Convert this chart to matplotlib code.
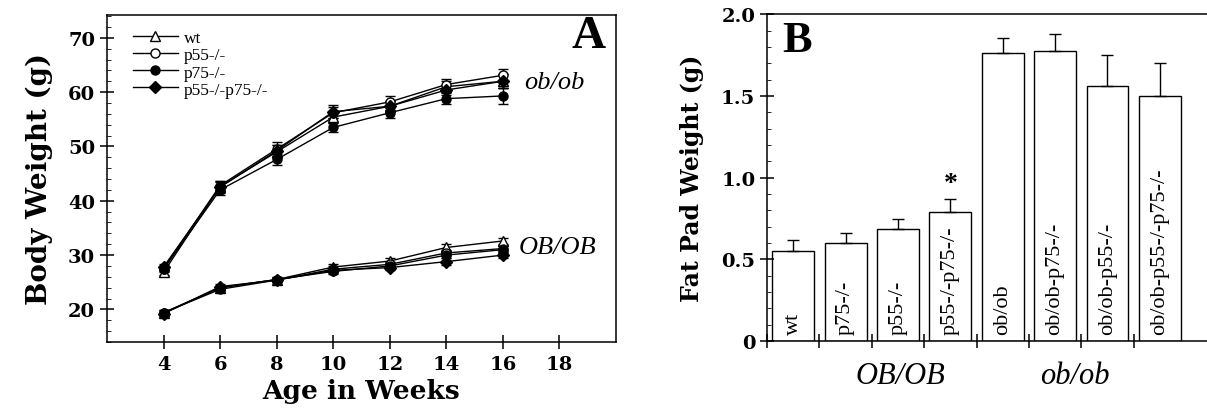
"""Body weight over time and fat pad weight for TNF receptor knockouts."""
import matplotlib
matplotlib.use("Agg")
import matplotlib.pyplot as plt
from matplotlib.lines import Line2D
from matplotlib.ticker import MultipleLocator

plt.rcParams["font.family"] = ["Liberation Serif", "DejaVu Serif"]
WIDE = ["DejaVu Serif"]

# Panel A: body weight (g) by age in weeks
weeks = [4, 6, 8, 10, 12, 14, 16]
genotypes = ["wt", "p55-/-", "p75-/-", "p55-/-p75-/-"]

obob_wt = [26.8, 42.6, 49.0, 55.4, 57.4, 61.0, 62.0]
obob_p55 = [27.5, 42.8, 49.5, 56.2, 58.2, 61.4, 63.1]
obob_p75 = [27.4, 42.0, 47.6, 53.5, 56.2, 58.8, 59.3]
obob_dko = [27.8, 42.5, 49.2, 56.4, 57.4, 60.4, 62.0]
obob_wt_err = [0.5, 1.0, 1.2, 1.1, 1.0, 1.0, 1.3]
obob_p55_err = [0.5, 0.9, 1.3, 1.0, 1.0, 1.1, 1.2]
obob_p75_err = [0.5, 0.9, 1.0, 0.9, 0.9, 1.0, 1.4]
obob_dko_err = [0.5, 1.0, 1.1, 1.2, 1.0, 1.0, 1.3]

OBOB_wt = [19.3, 24.0, 25.5, 27.8, 28.9, 31.4, 32.6]
OBOB_p55 = [19.4, 23.7, 25.4, 27.4, 28.3, 30.4, 31.2]
OBOB_p75 = [19.4, 24.0, 25.5, 27.0, 28.0, 30.0, 31.0]
OBOB_dko = [19.2, 24.2, 25.4, 27.2, 27.7, 28.8, 30.0]
OBOB_err = [0.4, 0.4, 0.4, 0.5, 0.5, 0.6, 0.6]

# Panel B: fat pad weight (g)
bar_labels = ["wt", "p75-/-", "p55-/-", "p55-/-p75-/-",
              "ob/ob", "ob/ob-p75-/-", "ob/ob-p55-/-", "ob/ob-p55-/-p75-/-"]
fat_pad = [0.55, 0.60, 0.685, 0.79, 1.765, 1.776, 1.558, 1.50]
fat_pad_err = [0.07, 0.06, 0.06, 0.08, 0.09, 0.10, 0.19, 0.20]

fig = plt.figure(figsize=(12.07, 4.10), dpi=100)
ax_a = fig.add_axes([0.0886, 0.1634, 0.4218, 0.7976])
ax_b = fig.add_axes([0.6355, 0.1659, 0.3645, 0.7971])

# --- Panel A ---
styles = [
    dict(marker="^", mfc="white"),
    dict(marker="o", mfc="white"),
    dict(marker="o", mfc="black"),
    dict(marker="D", mfc="black"),
]
obob = [obob_wt, obob_p55, obob_p75, obob_dko]
obob_err = [obob_wt_err, obob_p55_err, obob_p75_err, obob_dko_err]
OBOB = [OBOB_wt, OBOB_p55, OBOB_p75, OBOB_dko]

handles = []
for name, style, vals, errs, vals2 in zip(genotypes, styles, obob, obob_err, OBOB):
    ax_a.errorbar(weeks, vals, yerr=errs, color="black", mec="black",
                  ms=6.5, lw=1.0, elinewidth=1.0, capsize=3.5, **style)
    ax_a.errorbar(weeks, vals2, yerr=OBOB_err, color="black", mec="black",
                  ms=6.5, lw=1.0, elinewidth=1.0, capsize=3.5, **style)
    handles.append(Line2D([], [], color="black", mec="black", ms=6.5,
                          lw=1.0, label=name, **style))

ax_a.set_xlim(2, 20)
ax_a.set_ylim(14, 74.2)
ax_a.set_xticks(range(4, 19, 2))
ax_a.set_yticks(range(20, 71, 10))
ax_a.yaxis.set_minor_locator(MultipleLocator(2))
ax_a.tick_params(axis="both", which="major", direction="inout", length=10,
                 width=1.1, labelsize=14)
ax_a.tick_params(axis="y", which="minor", direction="in", length=3)
ax_a.tick_params(axis="x", pad=4)
for lab in ax_a.get_xticklabels() + ax_a.get_yticklabels():
    lab.set_fontweight("bold")
    lab.set_family(WIDE)
for sp in ax_a.spines.values():
    sp.set_linewidth(1.1)

ax_a.set_xlabel("Age in Weeks", fontsize=19, fontweight="bold",
                family=WIDE, labelpad=4)
ax_a.set_ylabel("Body Weight (g)", fontsize=20, fontweight="bold",
                family=WIDE, labelpad=11)
ax_a.legend(handles=handles, loc="upper left",
            bbox_to_anchor=(0.03, 0.985), frameon=False,
            fontsize=12.5, handlelength=2.6, labelspacing=0.05,
            borderaxespad=0.2, handletextpad=0.35)
ax_a.text(0.98, 0.936, "A", transform=ax_a.transAxes, fontsize=34,
          fontweight="bold", ha="right", va="center")
ax_a.text(16.75, 61.8, "ob/ob", fontsize=19, style="italic",
          ha="left", va="center")
ax_a.text(16.55, 31.4, "OB/OB", fontsize=19, style="italic",
          ha="left", va="center")

# --- Panel B ---
xpos = [i + 0.5 for i in range(len(bar_labels))]
ax_b.bar(xpos, fat_pad, width=0.8, color="white", edgecolor="black",
         linewidth=1.0)
ax_b.errorbar(xpos, fat_pad, yerr=[[0] * len(fat_pad), fat_pad_err],
              fmt="none", ecolor="black", elinewidth=1.0, capsize=4)
for x, lab in zip(xpos, bar_labels):
    ax_b.text(x, 0.04, lab, rotation=90, ha="center", va="bottom",
              fontsize=16)
ax_b.text(xpos[3], fat_pad[3] + fat_pad_err[3] + 0.02, "*", ha="center",
          va="bottom", fontsize=20, fontweight="bold")

ax_b.set_xlim(0, 8.4)
ax_b.set_ylim(0, 2.0)
ax_b.set_xticks(range(0, 8))
ax_b.set_xticklabels([])
ax_b.set_yticks([0, 0.5, 1.0, 1.5, 2.0])
ax_b.set_yticklabels(["0", "0.5", "1.0", "1.5", "2.0"])
ax_b.yaxis.set_minor_locator(MultipleLocator(0.1))
ax_b.tick_params(axis="both", which="major", direction="inout", length=10,
                 width=1.1, labelsize=14)
ax_b.tick_params(axis="y", which="minor", direction="in", length=3)
for lab in ax_b.get_yticklabels():
    lab.set_fontweight("bold")
    lab.set_family(WIDE)
ax_b.spines["right"].set_visible(False)
for sp in ax_b.spines.values():
    sp.set_linewidth(1.1)
ax_b.set_ylabel("Fat Pad Weight (g)", fontsize=17, fontweight="bold",
                family=WIDE, labelpad=12)
ax_b.text(0.035, 0.92, "B", transform=ax_b.transAxes, fontsize=32,
          fontweight="bold", ha="left", va="center")
ax_b.text(2.55, -0.107, "OB/OB", transform=ax_b.get_xaxis_transform(),
          fontsize=22, style="italic", ha="center", va="center")
ax_b.text(5.88, -0.107, "ob/ob", transform=ax_b.get_xaxis_transform(),
          fontsize=22, style="italic", ha="center", va="center")

fig.savefig("out.png", dpi=100)
